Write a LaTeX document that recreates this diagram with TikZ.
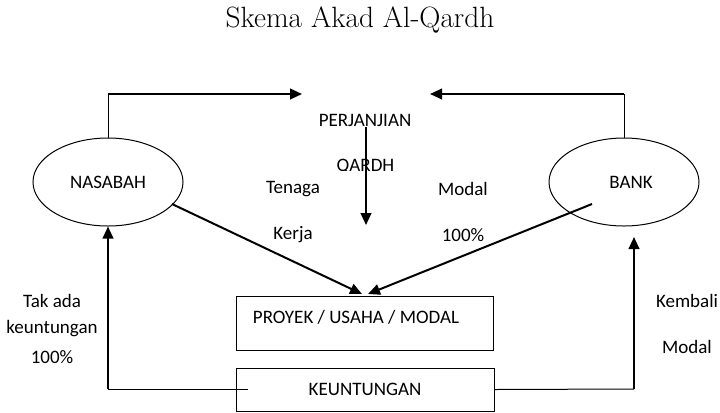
\documentclass[tikz,border=0pt]{standalone}
\usepackage{fontspec}
\newfontfamily\bodyfont{Carlito}
\usetikzlibrary{arrows.meta,shapes.geometric}
\begin{document}
\begin{tikzpicture}[x=0.75pt,y=-0.75pt,
  lbl/.style={font=\bodyfont\fontsize{14.25}{16}\selectfont, inner sep=0pt},
  oval/.style={draw, ellipse, line width=0.75pt, minimum width=112.5pt, minimum height=66pt, inner sep=0pt, font=\bodyfont\fontsize{14.25}{16}\selectfont},
  boxst/.style={draw, rectangle, line width=0.75pt, inner sep=0pt, font=\bodyfont\fontsize{14.25}{16}\selectfont},
  thinline/.style={line width=0.75pt},
  thickarr/.style={line width=1.5pt, -{Triangle[length=9pt,width=8pt]}},
  thickline/.style={line width=1.5pt}
]
\useasboundingbox (0,0) rectangle (720,412);

% title
\node[font=\fontsize{22}{26}\selectfont, inner sep=0pt, anchor=base] (title) at (360,27) {Skema Akad Al-Qardh};

% ellipses
\node[oval] (nas) at (108,182) {NASABAH};
\node[oval] (bank) at (624,182) {\hspace*{10.5pt}BANK};

% boxes
\node[boxst, minimum width=192.75pt, minimum height=40.5pt] (proyek) at (364.5,323) {};
\node[lbl] (proyektxt) at (356,317) {PROYEK / USAHA / MODAL};
\node[boxst, minimum width=193.5pt, minimum height=32.25pt] (keu) at (365,389.5) {KEUNTUNGAN};

% centre texts
\node[lbl] (perj) at (365,120) {PERJANJIAN};
\begin{scope}
  \clip (320,150) rectangle (410,170.5);
  \node[lbl, anchor=base] (qardh) at (365.5,171) {QARDH};
\end{scope}
\node[lbl] (tenaga) at (293,189) {Tenaga};
\node[lbl] (kerja) at (293,235) {Kerja};
\node[lbl] (modal1) at (463,189) {Modal};
\node[lbl] (pct1) at (463,235) {100\%};

% side texts
\node[lbl] (tak) at (52,301) {Tak ada};
\node[lbl] (keun) at (52,329) {keuntungan};
\node[lbl] (pct2) at (52,357) {100\%};
\node[lbl] (kemb) at (687,301) {Kembali};
\node[lbl] (modal2) at (687,347) {Modal};

% coordinates
\coordinate (tl) at (108,94);
\coordinate (tla) at (302,94);
\coordinate (tr) at (624,94);
\coordinate (tra) at (430,94);
\coordinate (vs) at (366,127);
\coordinate (va) at (366,225);
\coordinate (ds1) at (172,204);
\coordinate (dt1) at (362,294);
\coordinate (ds2) at (592,204);
\coordinate (dt2) at (368,294);
\coordinate (kl) at (248,389);
\coordinate (bl) at (108,389);
\coordinate (br) at (634,389);
\coordinate (bra) at (634,237);

% connectors
\draw[thinline] (nas.north) -- (tl);
\draw[thickarr] (tl) -- (tla);
\draw[thinline] (bank.north) -- (tr);
\draw[thickarr] (tr) -- (tra);
\draw[thickarr] (vs) -- (va);
\draw[thickarr] (ds1) -- (dt1);
\draw[thickarr] (ds2) -- (dt2);
\draw[thinline] (kl) -- (bl);
\draw[thickarr] (bl) -- (nas.south);
\draw[thinline] (keu.east) -- (br);
\draw[thickarr] (br) -- (bra);
\end{tikzpicture}
\end{document}
